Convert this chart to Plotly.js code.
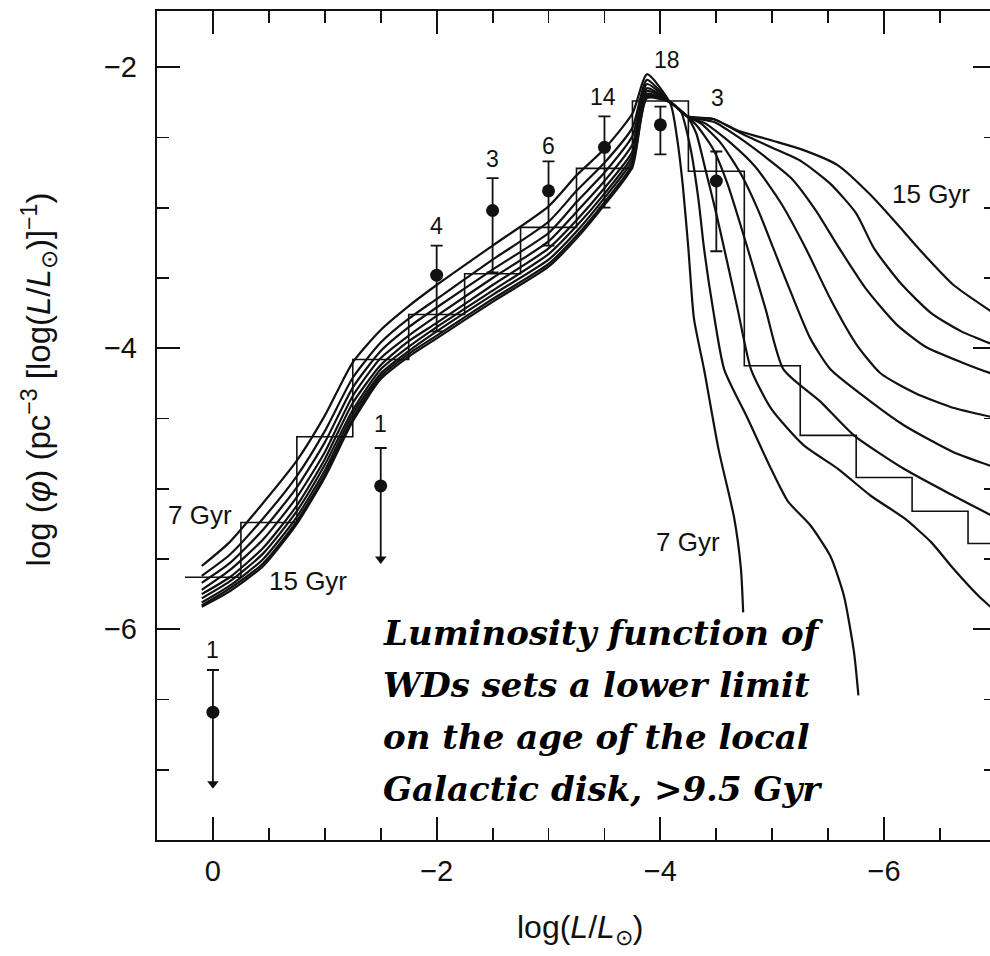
<!DOCTYPE html>
<html><head><meta charset="utf-8">
<script src="https://cdn.plot.ly/plotly-3.0.1.min.js"></script>
<style>html,body{margin:0;padding:0;overflow:hidden;background:#fff}#chart{width:1010px;height:956px}</style>
</head><body><div id="chart"></div>
<script>
// ---------- data ----------
const ages = [7, 8, 9, 10, 11, 12, 13, 14, 15];

// left (bright) part of the model curves, shared x grid
const leftX  = [0.1, -0.15, -0.45, -0.75, -1.0, -1.25, -1.5, -1.75, -2.0, -2.5, -3.0, -3.25, -3.5, -3.75];
const left7  = [-5.55, -5.38, -5.10, -4.80, -4.48, -4.10, -3.87, -3.70, -3.55, -3.27, -2.99, -2.77, -2.58, -2.33];
const left8  = [-5.62, -5.47, -5.21, -4.91, -4.59, -4.21, -3.96, -3.79, -3.65, -3.37, -3.10, -2.88, -2.68, -2.43];
const left9  = [-5.67, -5.53, -5.29, -4.99, -4.67, -4.28, -4.02, -3.85, -3.71, -3.44, -3.18, -2.96, -2.75, -2.49];
const left10 = [-5.72, -5.58, -5.36, -5.06, -4.74, -4.34, -4.07, -3.91, -3.77, -3.50, -3.24, -3.03, -2.81, -2.55];
const left11 = [-5.75, -5.63, -5.42, -5.12, -4.79, -4.39, -4.12, -3.95, -3.82, -3.55, -3.29, -3.09, -2.86, -2.60];
const left12 = [-5.78, -5.66, -5.46, -5.16, -4.83, -4.44, -4.15, -3.99, -3.85, -3.59, -3.33, -3.13, -2.90, -2.63];
const left13 = [-5.81, -5.69, -5.50, -5.20, -4.87, -4.47, -4.18, -4.02, -3.88, -3.62, -3.37, -3.17, -2.93, -2.66];
const left14 = [-5.83, -5.71, -5.53, -5.23, -4.90, -4.50, -4.20, -4.04, -3.91, -3.65, -3.40, -3.20, -2.96, -2.69];
const left15 = [-5.84, -5.73, -5.55, -5.25, -4.92, -4.52, -4.22, -4.06, -3.93, -3.67, -3.42, -3.22, -2.98, -2.71];

// peak
const peakX = -3.88;
const peakY = [-2.05, -2.09, -2.12, -2.15, -2.17, -2.19, -2.20, -2.21, -2.22];

// right (faint) part of each curve
const r7x  = [-4.09, -4.15, -4.20, -4.25, -4.30, -4.39, -4.52, -4.66, -4.72, -4.74];
const r7y  = [-2.26, -2.51, -2.84, -3.29, -3.79, -4.15, -4.72, -5.21, -5.57, -5.88];
const r8x  = [-4.09, -4.18, -4.27, -4.34, -4.39, -4.47, -4.57, -4.78, -4.99, -5.14, -5.34, -5.52, -5.64, -5.73, -5.77];
const r8y  = [-2.25, -2.31, -2.58, -2.94, -3.29, -3.72, -4.15, -4.50, -4.86, -5.09, -5.26, -5.48, -5.76, -6.16, -6.47];
const r9x  = [-4.09, -4.24, -4.32, -4.40, -4.49, -4.57, -4.69, -4.81, -4.99, -5.28, -5.59, -5.88, -6.18, -6.42, -6.62, -6.84, -7.05];
const r9y  = [-2.25, -2.35, -2.47, -2.72, -3.01, -3.29, -3.72, -4.15, -4.43, -4.69, -4.86, -5.05, -5.21, -5.38, -5.57, -5.76, -5.91];
const r10x = [-4.09, -4.24, -4.33, -4.47, -4.60, -4.78, -4.94, -5.10, -5.43, -5.73, -6.18, -6.62, -6.96, -7.05];
const r10y = [-2.25, -2.35, -2.42, -2.58, -2.83, -3.29, -3.72, -4.15, -4.38, -4.62, -4.86, -5.05, -5.19, -5.23];
const r11x = [-4.09, -4.24, -4.36, -4.54, -4.72, -4.87, -5.01, -5.17, -5.34, -5.52, -5.88, -6.18, -6.62, -6.96, -7.05];
const r11y = [-2.25, -2.35, -2.40, -2.54, -2.76, -3.01, -3.29, -3.61, -3.93, -4.15, -4.38, -4.55, -4.74, -4.84, -4.87];
const r12x = [-4.09, -4.24, -4.40, -4.63, -4.85, -5.08, -5.30, -5.52, -5.75, -5.97, -6.28, -6.60, -6.96, -7.05];
const r12y = [-2.25, -2.35, -2.40, -2.54, -2.71, -2.97, -3.29, -3.65, -3.97, -4.18, -4.32, -4.42, -4.49, -4.51];
const r13x = [-4.09, -4.24, -4.48, -4.72, -4.94, -5.17, -5.39, -5.60, -5.84, -6.11, -6.37, -6.69, -6.96, -7.05];
const r13y = [-2.25, -2.35, -2.39, -2.51, -2.64, -2.79, -3.02, -3.29, -3.58, -3.83, -3.99, -4.10, -4.18, -4.20];
const r14x = [-4.09, -4.24, -4.48, -4.72, -4.99, -5.26, -5.52, -5.75, -5.91, -6.15, -6.42, -6.69, -6.96, -7.05];
const r14y = [-2.25, -2.35, -2.37, -2.47, -2.57, -2.67, -2.83, -3.04, -3.29, -3.54, -3.75, -3.88, -3.97, -4.00];
const r15x = [-4.09, -4.24, -4.48, -4.69, -4.99, -5.28, -5.59, -5.88, -6.12, -6.33, -6.62, -6.96, -7.05];
const r15y = [-2.25, -2.35, -2.37, -2.45, -2.52, -2.59, -2.70, -2.91, -3.12, -3.31, -3.55, -3.74, -3.79];

// histogram (bin centres, bin width 0.5)
const binCenters = [0, -0.5, -1.0, -1.5, -2.0, -2.5, -3.0, -3.5, -4.0, -4.5, -5.0, -5.5, -6.0, -6.5, -7.0];
const binValues  = [-5.63, -5.24, -4.63, -4.08, -3.76, -3.47, -3.14, -2.72, -2.24, -2.74, -4.125, -4.62, -4.92, -5.16, -5.39];
const binWidth = 0.5;

// observed points with error bars
const obsX     = [-2.0, -2.5, -3.0, -3.5, -4.0, -4.5];
const obsY     = [-3.48, -3.02, -2.88, -2.57, -2.41, -2.81];
const obsUp    = [0.21, 0.23, 0.21, 0.22, 0.13, 0.21];
const obsDown  = [0.40, 0.44, 0.39, 0.43, 0.21, 0.50];
const obsN     = ['4', '3', '6', '14', '18', '3'];
const obsLabX  = [-2.0, -2.5, -3.0, -3.49, -4.06, -4.51];
const obsLabY  = [-3.13, -2.65, -2.56, -2.21, -1.95, -2.22];

// upper-limit points (one star)
const limX    = [0, -1.5];
const limY    = [-6.59, -4.98];
const limUp   = [0.30, 0.27];
const limTip  = [-7.10, -5.50];
const limN    = ['1', '1'];
const limLabY = [-6.15, -4.54];

// text
const tickVals = [0, -2, -4, -6];
const yTickVals = [-2, -4, -6];
const ageText = ['7 Gyr', '15 Gyr', '7 Gyr', '15 Gyr'];
const ageTextX = [0.12, -0.85, -4.25, -6.42];
const ageTextY = [-5.19, -5.66, -5.38, -2.90];
const noteLines = ['Luminosity function of', 'WDs sets a lower limit', 'on the age of the local', 'Galactic disk, >9.5 Gyr'];
const noteY = [-6.03, -6.40, -6.77, -7.14];
const noteX = -1.50;

// ---------- build traces ----------
const INK = '#111';
const SANS = 'Liberation Sans, Arial, sans-serif';
const lefts = [left7, left8, left9, left10, left11, left12, left13, left14, left15];
const rxs = [r7x, r8x, r9x, r10x, r11x, r12x, r13x, r14x, r15x];
const rys = [r7y, r8y, r9y, r10y, r11y, r12y, r13y, r14y, r15y];

const traces = [];

// histogram as a step line
const hx = [binCenters[0] + binWidth / 2].concat(binCenters, [binCenters[binCenters.length - 1] - binWidth / 2]);
const hy = [binValues[0]].concat(binValues, [binValues[binValues.length - 1]]);
traces.push({x: hx, y: hy, mode: 'lines', line: {shape: 'hvh', color: INK, width: 1.6}, hoverinfo: 'skip'});

ages.forEach((a, i) => {
  traces.push({
    x: leftX.concat([peakX], rxs[i]),
    y: lefts[i].concat([peakY[i]], rys[i]),
    mode: 'lines', name: a + ' Gyr',
    line: {shape: 'spline', smoothing: 0.6, color: INK, width: 2.2},
    hoverinfo: 'skip'
  });
});

traces.push({
  x: obsX, y: obsY, mode: 'markers',
  marker: {color: INK, size: 13},
  error_y: {type: 'data', symmetric: false, array: obsUp, arrayminus: obsDown, color: INK, thickness: 1.8, width: 6}
});
traces.push({
  x: limX, y: limY, mode: 'markers',
  marker: {color: INK, size: 13},
  error_y: {type: 'data', symmetric: false, array: limUp, arrayminus: limUp.map(() => 0), color: INK, thickness: 1.8, width: 6}
});
// upper-limit arrows: shaft + arrow head
limX.forEach((x, i) => {
  traces.push({x: [x, x], y: [limY[i], limTip[i]], mode: 'lines', line: {color: INK, width: 1.8}, hoverinfo: 'skip'});
});
traces.push({x: limX, y: limTip, mode: 'markers', hoverinfo: 'skip',
  marker: {symbol: 'triangle-down', size: 10, color: INK, line: {width: 0}}});

// ---------- annotations ----------
const ann = [];
const labFont = {family: SANS, size: 23, color: INK};
obsN.forEach((t, i) => ann.push({x: obsLabX[i], y: obsLabY[i], text: t, showarrow: false, font: labFont, xref: 'x', yref: 'y'}));
limN.forEach((t, i) => ann.push({x: limX[i], y: limLabY[i], text: t, showarrow: false, font: labFont, xref: 'x', yref: 'y'}));
ageText.forEach((t, i) => ann.push({x: ageTextX[i], y: ageTextY[i], text: t, showarrow: false, xref: 'x', yref: 'y',
  font: {family: SANS, size: 26, color: INK}}));
noteLines.forEach((t, i) => ann.push({x: noteX, y: noteY[i], text: '<b><i>' + t + '</i></b>', showarrow: false,
  xref: 'x', yref: 'y', xanchor: 'left', yanchor: 'middle',
  font: {family: 'DejaVu Serif, serif', size: 34, color: '#000'}}));
// axis titles
ann.push({xref: 'paper', yref: 'paper', x: 0.505, y: -0.108, xanchor: 'center', yanchor: 'middle', showarrow: false,
  text: 'log(<i>L</i>/<i>L</i><sub>⊙</sub>)', font: {family: SANS, size: 32, color: INK}});
ann.push({xref: 'paper', yref: 'paper', x: -0.14, y: 0.555, xanchor: 'center', yanchor: 'middle', showarrow: false, textangle: -90,
  text: 'log (<i>φ</i>) (pc<sup>−3</sup> [log(<i>L</i>/<i>L</i><sub>⊙</sub>)]<sup>−1</sup>)',
  font: {family: SANS, size: 33, color: INK}});

const axisCommon = {
  ticks: 'inside', ticklen: 23, tickwidth: 2, tickcolor: INK,
  showline: true, linewidth: 2.2, linecolor: INK, mirror: 'allticks',
  showgrid: false, zeroline: false,
  tickfont: {family: SANS, size: 29, color: INK},
  minor: {tickmode: 'linear', tick0: 0, dtick: 0.5, ticks: 'inside', ticklen: 12, tickwidth: 1.8, tickcolor: INK, showgrid: false}
};

const layout = {
  width: 1010, height: 956,
  margin: {l: 157, r: 14, t: 11, b: 116},
  paper_bgcolor: '#fff', plot_bgcolor: '#fff',
  showlegend: false,
  xaxis: Object.assign({}, axisCommon, {range: [0.5, -7.0], tickmode: 'array', tickvals: tickVals, ticklabelstandoff: 4}),
  yaxis: Object.assign({}, axisCommon, {range: [-7.5, -1.6], tickmode: 'array', tickvals: yTickVals, ticklabelstandoff: 12}),
  annotations: ann
};

Plotly.newPlot('chart', traces, layout, {staticPlot: true, displayModeBar: false});
</script>
</body></html>
